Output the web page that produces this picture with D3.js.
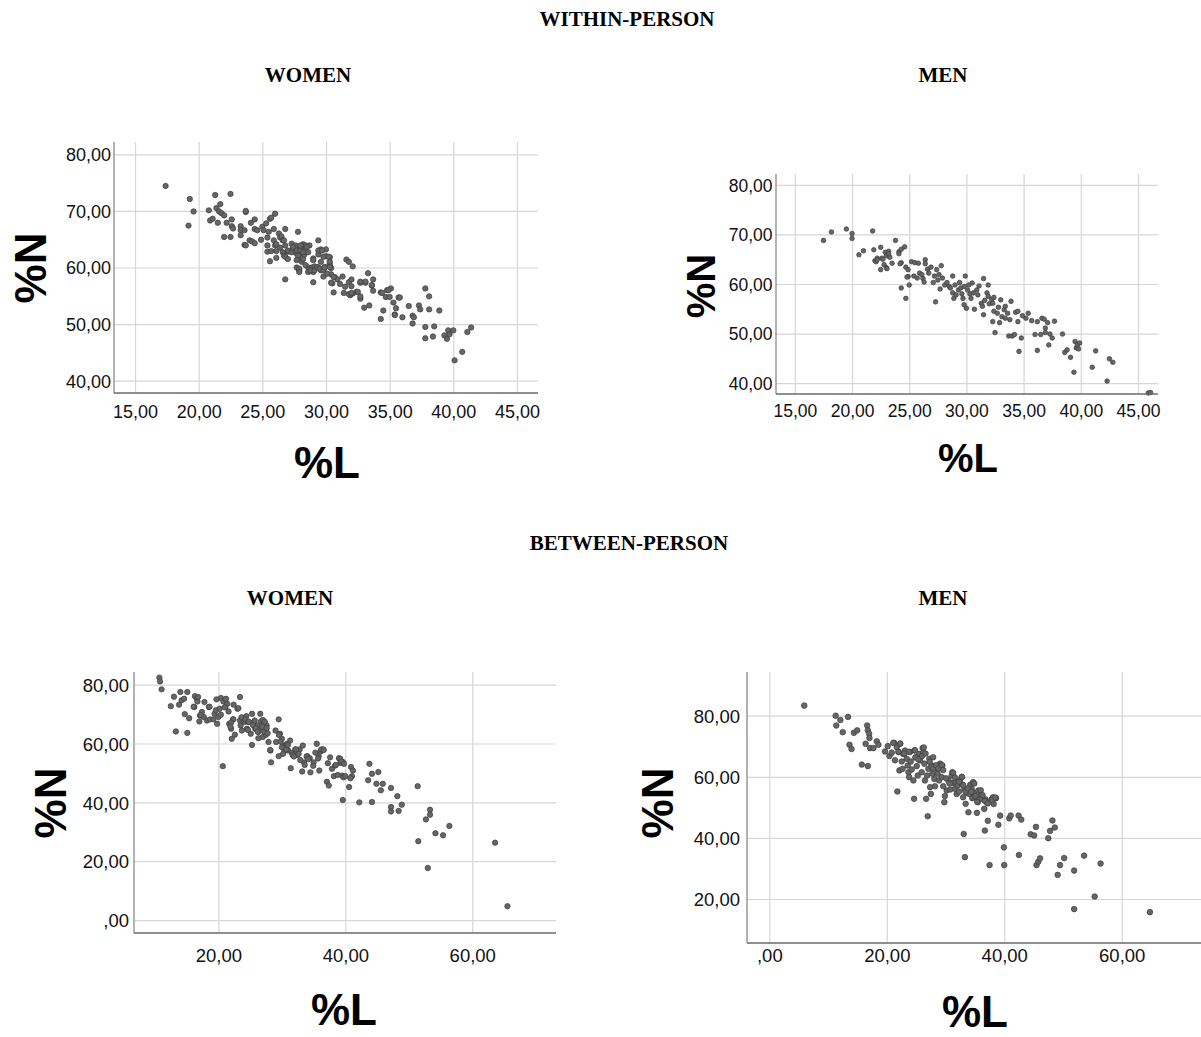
<!DOCTYPE html>
<html><head><meta charset="utf-8">
<script src="https://cdn.jsdelivr.net/npm/d3@7"></script>
<style>body{margin:0;background:#fff}</style>
</head><body><svg id="c" width="1201" height="1037"></svg>
<script>
// ---------- DATA ----------
const withinWomenL = [17.4,19.3,19.6,19.2,20.8,20.9,21.1,21.3,21.4,21.7,21.6,21.8,22.0,21.5,22.0,22.2,22.5,22.6,22.6,22.7,22.5,23.3,23.3,23.3,23.7,23.7,23.6,23.6,23.7,24.0,24.1,24.2,24.4,24.4,24.4,24.6,24.9,25.0,25.1,25.3,25.4,25.4,25.5,25.6,25.7,26.0,25.9,25.4,25.6,25.9,26.0,26.1,26.1,26.3,26.4,26.4,26.5,26.6,26.6,26.7,26.8,26.8,26.8,26.8,27.0,27.0,27.3,27.4,27.6,27.6,27.7,27.8,27.7,27.8,27.9,27.9,28.0,28.0,28.1,28.2,28.2,28.3,28.4,28.4,28.6,28.6,28.7,28.9,29.0,29.0,29.0,29.1,29.4,29.4,29.4,29.6,29.6,29.6,29.8,29.9,30.0,30.0,30.3,30.3,30.3,30.4,30.4,30.5,30.6,30.7,30.9,31.1,31.3,31.4,31.5,31.6,31.8,31.8,31.9,32.0,32.0,32.1,32.1,32.4,32.7,32.7,33.0,33.1,33.3,33.4,33.6,33.7,33.7,34.3,34.3,34.5,34.7,34.8,35.0,35.1,35.3,35.4,35.5,35.7,36.0,36.5,36.8,36.8,36.9,37.3,37.4,37.8,37.8,37.8,38.1,38.1,38.4,38.5,38.9,39.3,39.5,39.6,39.7,40.0,40.1,40.7,41.1,41.4,
  26.7,26.1,25.7,27.0,27.3,27.4,28.0,28.5,28.6,28.2,27.8,27.7,27.9,27.9,28.4,28.8,29.0,29.1,29.4,29.7,29.8,29.3,29.5,29.8,29.9,30.1,30.2,30.3,30.6,30.4,31.8,32.0,32.5,32.7,32.7,33.1,33.6,34.4,34.9,35.4,35.8];
const withinWomenN = [74.4,72.1,69.9,67.4,70.1,68.3,68.6,72.8,70.5,71.2,69.9,69.6,69.2,67.9,65.4,67.9,73.0,68.5,67.3,66.9,65.4,67.3,66.6,65.7,69.8,70.0,66.6,64.0,63.9,64.8,67.9,64.6,68.5,66.8,64.3,66.6,64.9,67.2,66.6,67.8,65.3,63.9,66.3,68.6,68.8,69.5,66.8,62.8,61.1,64.8,63.9,62.9,61.7,66.0,65.3,63.5,65.5,64.8,62.7,62.1,66.8,63.9,61.9,57.9,62.8,61.5,64.2,63.3,63.9,62.6,63.0,66.3,60.0,61.5,59.5,62.3,63.5,63.0,61.0,64.1,61.5,62.3,63.9,63.2,60.0,59.2,63.9,60.0,61.6,57.4,59.2,60.2,60.0,64.8,62.3,61.0,63.2,59.5,58.4,60.1,63.2,62.0,61.8,60.5,61.0,59.9,58.8,57.2,55.6,58.3,57.9,57.1,58.4,55.5,56.6,61.4,61.0,57.4,55.1,57.9,56.7,60.2,55.4,55.7,57.3,54.5,52.9,57.3,59.0,53.3,56.8,57.9,55.9,50.9,55.6,52.4,54.8,56.0,54.8,56.3,53.8,51.7,52.8,54.7,51.2,53.2,50.1,51.5,51.2,53.3,52.6,56.3,49.5,47.5,54.9,52.6,47.8,49.6,52.4,48.0,47.4,48.9,48.2,48.9,43.6,45.1,48.6,49.4,
  64.8,64.1,62.9,63.0,62.7,63.6,63.9,63.6,62.7,62.7,62.1,61.3,59.8,59.2,60.4,59.5,61.3,59.5,63.0,63.0,61.9,60.1,59.8,59.5,60.0,58.9,61.9,60.1,58.3,57.3,55.3,55.5,55.7,54.9,57.5,57.5,56.9,55.5,56.0,51.6,54.7];

const withinMenL = [17.5,18.2,19.5,20.0,20.0,20.6,21.0,21.8,21.9,22.0,22.2,22.5,22.5,22.6,22.7,22.9,22.8,23.0,23.0,23.2,23.3,23.5,23.8,24.1,24.3,24.6,24.3,24.3,24.7,24.7,24.9,24.9,25.0,25.2,25.4,25.5,25.7,25.8,25.9,26.1,26.2,26.3,26.4,26.4,26.6,26.7,26.9,27.1,27.2,27.3,27.4,27.5,27.6,27.7,27.8,27.9,28.1,28.3,28.5,28.6,28.8,28.8,28.9,29.0,29.1,29.3,29.4,29.5,29.6,29.7,29.8,29.9,29.8,30.0,30.1,30.2,30.3,30.4,30.5,30.6,30.7,30.9,31.0,31.1,31.3,31.4,31.5,31.5,31.6,31.8,31.9,31.9,32.0,32.2,32.3,32.4,32.3,32.4,32.5,32.7,32.8,32.9,33.0,33.1,33.3,33.4,33.4,33.6,33.7,33.8,33.9,34.0,34.2,34.3,34.5,34.5,34.6,34.8,34.9,35.2,35.4,35.7,36.0,36.2,36.2,36.5,36.6,36.8,36.9,36.9,37.1,37.2,37.3,37.5,37.7,38.4,38.6,38.8,39.1,39.4,39.5,39.6,39.7,39.8,39.9,41.0,41.3,42.3,42.5,42.8,45.9,46.1,
  22.1,22.2,23.05,23.2,24.1,24.2,24.8];
const withinMenN = [68.8,70.5,71.1,70.2,69.2,65.9,66.7,70.7,66.9,64.7,65.2,67.4,62.9,65.2,65.0,66.4,63.9,63.3,65.7,66.6,65.4,64.2,68.8,66.5,67.0,67.5,64.3,59.2,57.1,63.4,62.9,61.5,59.8,64.5,61.6,64.3,61.2,64.2,62.2,61.9,61.1,60.4,64.9,64.1,63.0,62.2,63.4,60.3,61.6,56.4,62.9,60.8,61.9,59.0,63.7,61.2,59.8,60.3,59.5,59.2,61.6,58.2,57.1,59.8,57.8,58.8,60.3,59.2,58.0,57.1,59.5,61.6,55.8,55.1,58.8,59.8,58.0,57.1,60.2,58.2,54.9,58.8,57.8,59.6,56.1,55.5,61.1,53.8,56.7,58.2,59.8,57.5,56.0,56.9,56.1,57.3,52.4,54.5,50.2,54.1,55.3,52.2,56.8,53.4,54.8,53.1,55.5,54.1,49.5,52.8,56.5,49.5,49.8,54.3,52.4,54.5,46.4,49.1,53.6,53.1,54.1,52.6,49.8,52.4,46.6,49.8,53.1,52.9,51.1,50.2,52.2,47.7,49.9,49.1,52.5,49.9,46.2,46.7,45.2,42.2,48.4,47.1,47.7,46.9,48.1,43.2,46.5,40.4,44.9,44.2,38.0,38.1,
  64.5,64.9,63.1,66.1,66.1,64.1,61.4];

const betweenWomenL = [10.7,10.8,11.05,12.5,13.0,13.3,13.8,14.0,14.2,14.6,14.7,15.1,15.1,15.4,16.2,16.3,16.6,16.7,16.8,17.0,17.1,17.4,17.8,17.7,18.2,18.5,18.7,19.2,19.4,19.6,19.7,19.8,20.0,20.2,20.4,20.4,20.7,20.8,21.1,21.2,21.4,21.6,21.7,22.0,22.1,22.3,22.4,22.6,23.0,23.4,23.4,23.5,23.7,23.8,24.1,24.4,24.5,24.7,25.1,25.3,25.3,25.6,25.8,26.1,26.3,26.6,26.7,26.8,27.0,27.2,27.4,27.5,27.6,27.9,28.2,28.3,29.0,29.1,29.5,29.7,30.0,29.5,30.2,30.4,30.8,31.0,31.3,31.4,31.6,32.1,32.4,32.8,33.2,33.3,33.5,34.0,34.4,34.5,35.0,35.5,35.8,35.9,36.1,36.5,37.1,37.4,37.6,37.9,38.2,38.4,39.0,39.2,39.5,39.6,39.7,39.2,39.6,40.0,40.6,40.9,41.2,41.05,40.8,42.2,43.8,43.6,44.2,44.2,44.9,45.2,45.6,45.9,47.2,47.2,47.2,48.2,48.4,48.9,51.4,51.5,52.7,53.0,53.35,53.35,54.2,55.4,56.4,63.6,65.55,
  23.65,24.27,24.66,24.8,25.45,25.73,25.9,26.2,26.3,26.9,27.0,27.2,27.3,27.6,27.75,28.15,29.55,29.8,30.0,30.2,30.67,30.95,31.7,31.9,32.25,32.64,32.9,33.6,33.9,34.16,34.94,35.28,35.7,36.2,36.6,37.25,38.5,38.8,39.4,39.8,18.6,17.2,16.1,22.36,23.15,21.0,22.0,21.9];
const betweenWomenN = [82.4,81.1,78.4,72.7,75.9,64.1,73.2,77.5,74.7,75.2,70.0,77.5,63.6,68.6,72.4,76.1,75.2,74.3,75.8,67.5,69.5,70.7,74.1,69.0,67.8,72.4,68.2,68.2,70.1,71.3,75.0,66.7,69.0,71.8,75.5,69.8,52.3,74.3,72.4,75.2,73.5,70.9,66.7,65.0,61.6,68.2,73.2,63.0,71.8,75.8,67.8,66.1,64.4,68.6,67.3,69.3,65.0,67.3,63.3,70.1,59.5,67.3,65.0,66.1,63.9,70.1,67.5,65.0,62.2,67.3,64.4,63.0,66.1,60.5,57.6,53.6,64.4,60.5,68.2,63.3,61.6,55.7,59.3,57.6,59.9,57.6,61.0,51.6,56.8,58.0,56.1,58.0,50.5,59.3,53.6,55.7,55.0,50.2,53.6,59.9,55.7,50.8,57.3,58.0,47.0,45.7,55.3,51.4,48.9,52.5,55.0,53.4,49.1,40.8,48.5,54.8,53.7,48.9,45.2,52.0,50.8,48.9,48.2,40.0,53.1,47.5,49.7,40.1,46.3,50.3,44.1,46.3,44.9,38.4,36.9,42.1,37.1,39.2,45.5,26.8,34.2,17.7,37.5,35.8,29.5,28.8,32.0,26.3,4.7,
  68.9,68.2,64.6,67.4,66.3,67.8,65.2,64.0,61.8,65.7,68.0,64.0,67.4,65.2,63.5,57.8,62.9,60.65,58.7,56.5,58.0,59.5,56.1,55.6,58.0,56.5,54.4,52.7,55.6,54.7,52.4,56.9,54.9,58.0,57.8,53.3,52.7,49.3,53.9,53.1,72.5,69.7,72.5,68.2,72.0,72.3,67.1,65.7];

const betweenMenL = [5.95,11.3,11.4,12.1,12.5,13.4,13.65,14.0,14.4,14.96,15.75,16.77,16.4,16.66,16.77,17.0,17.05,17.17,17.73,18.3,18.58,19.7,20.17,20.45,20.85,21.25,21.4,21.7,21.8,22.0,22.15,22.27,22.55,22.7,22.8,23.1,23.4,23.57,23.7,23.8,23.97,24.1,24.25,24.53,24.65,24.7,24.9,25.1,25.27,25.5,25.67,25.95,26.1,26.23,26.4,26.5,26.7,26.86,26.97,27.08,27.25,27.37,27.5,27.65,27.76,27.9,28.1,28.2,28.5,28.67,28.9,29.07,29.35,29.46,29.6,29.8,29.9,30.2,30.5,30.8,31.05,31.16,31.33,31.6,31.7,31.9,32.07,32.3,32.46,32.75,32.86,33.0,33.1,33.2,33.3,33.43,33.6,33.9,34.05,34.2,34.45,34.56,34.7,34.9,35.1,35.35,35.5,35.6,35.9,36.15,36.6,36.8,37.0,36.7,37.2,37.5,37.85,38.1,38.2,38.6,39.0,39.3,39.94,40.0,40.85,41.1,42.44,42.5,42.9,44.5,45.1,45.4,45.5,45.8,46.1,47.5,47.8,48.2,48.6,49.1,49.5,50.2,51.9,51.9,53.6,55.4,56.4,64.8,
  21.1,22.3,22.0,23.0,23.8,24.8,24.9,25.4,26.0,26.3,26.6,27.3,27.6,27.9,28.4,28.8,29.4,29.6,30.1,30.7,31.3,31.6,32.3,32.8,33.0,33.4,33.8,34.4,34.9,35.1,35.4,36.0,36.3,36.7,37.2,37.9,38.5];
const betweenMenN = [83.3,80.0,76.8,78.6,74.6,79.6,70.5,69.1,74.4,75.2,64.0,63.5,70.8,76.8,75.2,74.1,72.7,69.4,69.4,71.6,70.5,68.3,70.05,66.8,67.9,71.1,65.4,69.7,55.2,68.1,62.1,70.8,65.0,62.6,67.5,68.6,65.9,63.7,61.5,59.9,68.1,65.0,62.4,58.8,52.8,68.6,66.4,63.5,60.4,67.5,65.35,61.5,69.4,67.9,64.3,58.8,52.8,60.4,47.1,62.6,65.9,56.6,54.4,63.7,61.0,66.4,59.3,56.9,62.6,61.0,58.8,64.3,59.9,63.7,56.9,51.7,53.7,55.5,58.8,55.85,60.4,61.5,58.0,56.1,58.25,54.4,57.2,55.2,58.8,59.9,57.4,53.3,41.3,56.1,33.7,51.15,54.75,48.4,54.4,57.4,56.1,53.0,58.25,54.75,53.3,48.2,51.7,55.5,53.9,52.8,49.5,52.6,51.7,42.4,45.6,31.1,52.6,53.3,51.1,53.0,44.3,47.3,36.9,31.1,46.4,47.3,47.3,34.4,46.0,41.2,40.8,43.6,31.1,32.2,33.3,39.9,42.3,45.7,43.4,27.9,31.1,33.4,29.3,16.7,34.2,20.8,31.6,15.7,
  71.1,70.9,68.2,67.6,68.2,68.7,66.3,65.7,66.8,69.6,67.6,64.9,63.3,62.7,63.8,62.7,63.8,62.2,59.5,57.8,61.3,59.8,58.4,60.0,57.3,55.1,56.2,55.1,57.8,53.7,51.8,55.6,54.0,52.1,51.3,52.4,53.2];

// tick values
const ticksWithinX = [15,20,25,30,35,40,45];
const ticksWithinY = [40,50,60,70,80];
const ticksBetweenWomenX = [20,40,60];
const ticksBetweenWomenY = [0,20,40,60,80];
const ticksBetweenMenX = [0,20,40,60];
const ticksBetweenMenY = [20,40,60,80];

const sectionTitles = ["WITHIN-PERSON","BETWEEN-PERSON"];
const groupTitles = ["WOMEN","MEN"];
const xTitle = "%L", yTitle = "%N";

// ---------- DRAWING ----------
const svg = d3.select("#c");
const fmt = v => v === 0 ? ",00" : d3.format(".2f")(v).replace(".", ",");
const sans = "Liberation Sans, Arial, sans-serif";

function panel(o){
  const x = d3.scaleLinear().domain(o.xDom).range([o.left, o.right]);
  const y = d3.scaleLinear().domain(o.yDom).range([o.bottom, o.top]);
  const g = svg.append("g");
  // gridlines
  g.append("g").attr("transform",`translate(0,${o.bottom})`)
    .call(d3.axisBottom(x).tickValues(o.xTicks).tickSize(-(o.bottom-o.top)).tickFormat(""))
    .call(s=>{s.select(".domain").remove(); s.selectAll("line").attr("stroke","#d6d6d6").attr("stroke-width",1.2);});
  g.append("g").attr("transform",`translate(${o.left},0)`)
    .call(d3.axisLeft(y).tickValues(o.yTicks).tickSize(-(o.right-o.left)).tickFormat(""))
    .call(s=>{s.select(".domain").remove(); s.selectAll("line").attr("stroke","#d6d6d6").attr("stroke-width",1.2);});
  // points
  g.append("g").selectAll("circle").data(o.L.map((v,i)=>[v,o.N[i]])).join("circle")
    .attr("cx",d=>x(d[0])).attr("cy",d=>y(d[1])).attr("r",o.r)
    .attr("fill","#666666").attr("stroke","#3c3c3c").attr("stroke-width",0.7);
  // axis lines
  g.append("line").attr("x1",o.left).attr("x2",o.left).attr("y1",o.top).attr("y2",o.bottom)
    .attr("stroke","#8a8a8a").attr("stroke-width",1.3);
  g.append("line").attr("x1",o.left).attr("x2",o.right).attr("y1",o.bottom).attr("y2",o.bottom)
    .attr("stroke","#6a6a6a").attr("stroke-width",1.3);
  // tick labels
  g.append("g").attr("transform",`translate(0,${o.xLabY})`)
    .call(d3.axisBottom(x).tickValues(o.xTicks).tickSize(0).tickPadding(0).tickFormat(fmt))
    .call(s=>{s.select(".domain").remove(); s.selectAll("text").attr("dy",0).attr("y",0)
      .attr("font-family",sans).attr("font-size",o.tf).attr("fill","#111");});
  g.append("g").attr("transform",`translate(${o.yLabX},0)`)
    .call(d3.axisLeft(y).tickValues(o.yTicks).tickSize(0).tickPadding(0).tickFormat(fmt))
    .call(s=>{s.select(".domain").remove(); s.selectAll("text").attr("x",0).attr("dy","0.36em")
      .attr("font-family",sans).attr("font-size",o.tf).attr("fill","#111");});
  // axis titles
  svg.append("text").attr("x",o.xtX).attr("y",o.xtY).attr("text-anchor","middle")
    .attr("font-family",sans).attr("font-weight","bold")
    .attr("font-size",o.af).attr("fill","#000").text(xTitle);
  svg.append("text").attr("transform",`translate(${o.ytX},${o.ytY}) rotate(-90)`).attr("dy","0.36em")
    .attr("text-anchor","middle")
    .attr("font-family",sans).attr("font-weight","bold")
    .attr("font-size",o.af).attr("fill","#000").text(yTitle);
}

panel({L:withinWomenL,N:withinWomenN,xDom:[13.35,46.65],yDom:[37.83,82.17],left:114,right:538,top:142,bottom:393,
  xTicks:ticksWithinX,yTicks:ticksWithinY,r:2.7,tf:18,xLabY:418,yLabX:111,af:44,xtX:327,xtY:478,ytX:30,ytY:268});
panel({L:withinMenL,N:withinMenN,xDom:[13.35,46.75],yDom:[37.8,82.2],left:776,right:1158,top:174,bottom:394,
  xTicks:ticksWithinX,yTicks:ticksWithinY,r:2.3,tf:17.5,xLabY:417,yLabX:772.5,af:40,xtX:968,xtY:472,ytX:701,ytY:286});
panel({L:betweenWomenL,N:betweenWomenN,xDom:[6.7,73.2],yDom:[-4.4,84.3],left:134,right:556,top:672,bottom:933,
  xTicks:ticksBetweenWomenX,yTicks:ticksBetweenWomenY,r:2.7,tf:18.5,xLabY:962,yLabX:129,af:44,xtX:344,xtY:1025,ytX:50,ytY:803});
panel({L:betweenMenL,N:betweenMenN,xDom:[-3.8,73.5],yDom:[5.6,94.3],left:747,right:1201,top:672,bottom:943,
  xTicks:ticksBetweenMenX,yTicks:ticksBetweenMenY,r:2.8,tf:18.5,xLabY:962,yLabX:740,af:44,xtX:975,xtY:1027,ytX:657,ytY:803});

// headings
const serif = "Liberation Serif, Times New Roman, serif";
function heading(t,x,y){ svg.append("text").attr("x",x).attr("y",y).attr("text-anchor","middle")
  .attr("font-family",serif).attr("font-weight","bold").attr("font-size",21).attr("fill","#000").text(t); }
heading(sectionTitles[0],627,26);
heading(groupTitles[0],308,82);
heading(groupTitles[1],943,82);
heading(sectionTitles[1],629,550);
heading(groupTitles[0],290,605);
heading(groupTitles[1],943,605);
</script></body></html>
